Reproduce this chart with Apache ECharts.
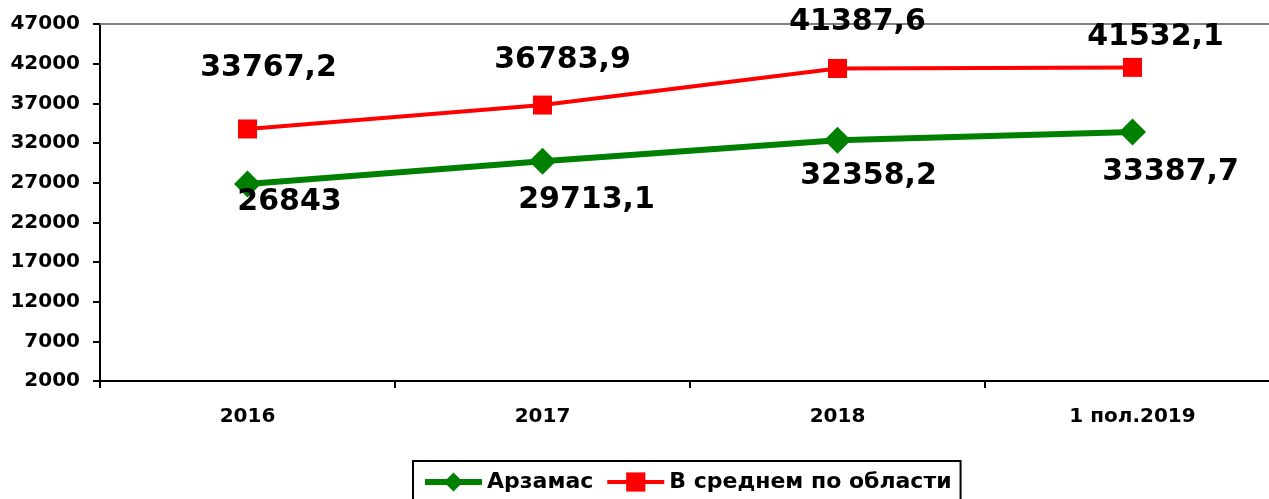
<!DOCTYPE html>
<html>
<head>
<meta charset="utf-8">
<script src="https://cdn.jsdelivr.net/npm/echarts@6/dist/echarts.min.js"></script>
<style>
html, body { margin: 0; padding: 0; background: #fff; }
#box1 { width: 1269px; height: 499px; }
</style>
</head>
<body>
<div id="box1"></div>
<script>
var categories = ['2016', '2017', '2018', '1 пол.2019'];
var arzamas = [26843, 29713.1, 32358.2, 33387.7];
var oblast = [33767.2, 36783.9, 41387.6, 41532.1];
var yTicks = [2000, 7000, 12000, 17000, 22000, 27000, 32000, 37000, 42000, 47000];

// сдвиги подписей (как вручную расставлено в исходнике)
var arzamasLabelOffsets = [[42, 18], [44, 39], [31, 36], [38, 40]];
var oblastLabelOffsets = [[21, -61], [20, -45], [20, -46], [23, -30]];

var FONT = 'DejaVu Sans';

function withLabels(values, offsets) {
    return values.map(function (v, i) {
        return { value: v, label: { offset: offsets[i] } };
    });
}

function commaFmt(p) {
    return String(p.value).replace('.', ',');
}

var chartDom = document.getElementById('box1');
var myChart = echarts.init(chartDom);

var option = {
    animation: false,
    backgroundColor: '#fff',
    grid: {
        left: 100,
        width: 1180,
        top: 24,
        height: 357,
        outerBoundsMode: 'none'
    },
    legend: {
        left: 413,
        top: 461,
        padding: [10, 9, 8, 9],
        itemGap: 12,
        itemWidth: 57,
        itemHeight: 24,
        borderColor: '#000',
        borderWidth: 2,
        textStyle: { fontFamily: FONT, fontWeight: 'bold', fontSize: 22, color: '#000' },
        data: [
            { name: 'Арзамас', lineStyle: { width: 6 } },
            { name: 'В среднем по области', lineStyle: { width: 4 } }
        ]
    },
    xAxis: [{
        type: 'category',
        data: categories,
        axisLine: { lineStyle: { color: '#000', width: 2 } },
        axisTick: { show: true, length: 7, lineStyle: { color: '#000', width: 2 } },
        axisLabel: { margin: 26, fontFamily: FONT, fontWeight: 'bold', fontSize: 20, color: '#000' },
        splitLine: { show: false }
    }, {
        type: 'category',
        position: 'top',
        data: categories,
        axisLine: { lineStyle: { color: '#808080', width: 2 } },
        axisTick: { show: false },
        axisLabel: { show: false },
        splitLine: { show: false }
    }],
    yAxis: {
        type: 'value',
        min: 2000,
        max: 47000,
        axisLine: { show: true, lineStyle: { color: '#000', width: 2 } },
        axisTick: { show: true, length: 7, customValues: yTicks, lineStyle: { color: '#000', width: 2 } },
        axisLabel: {
            margin: 20,
            customValues: yTicks,
            formatter: function (v) { return String(v); },
            fontFamily: FONT,
            fontWeight: 'bold',
            fontSize: 20,
            color: '#000'
        },
        splitLine: { show: false }
    },
    series: [{
        name: 'Арзамас',
        type: 'line',
        data: withLabels(arzamas, arzamasLabelOffsets),
        symbol: 'diamond',
        symbolSize: 27,
        color: '#008000',
        lineStyle: { width: 6, color: '#008000' },
        itemStyle: { color: '#008000' },
        label: {
            show: true,
            position: 'inside',
            formatter: commaFmt,
            fontFamily: FONT,
            fontWeight: 'bold',
            fontSize: 30,
            color: '#000'
        },
        z: 3
    }, {
        name: 'В среднем по области',
        type: 'line',
        data: withLabels(oblast, oblastLabelOffsets),
        symbol: 'rect',
        symbolSize: 19,
        color: '#ff0000',
        lineStyle: { width: 4, color: '#ff0000' },
        itemStyle: { color: '#ff0000' },
        label: {
            show: true,
            position: 'inside',
            formatter: commaFmt,
            fontFamily: FONT,
            fontWeight: 'bold',
            fontSize: 30,
            color: '#000'
        },
        z: 3
    }]
};

myChart.setOption(option);
</script>
</body>
</html>
